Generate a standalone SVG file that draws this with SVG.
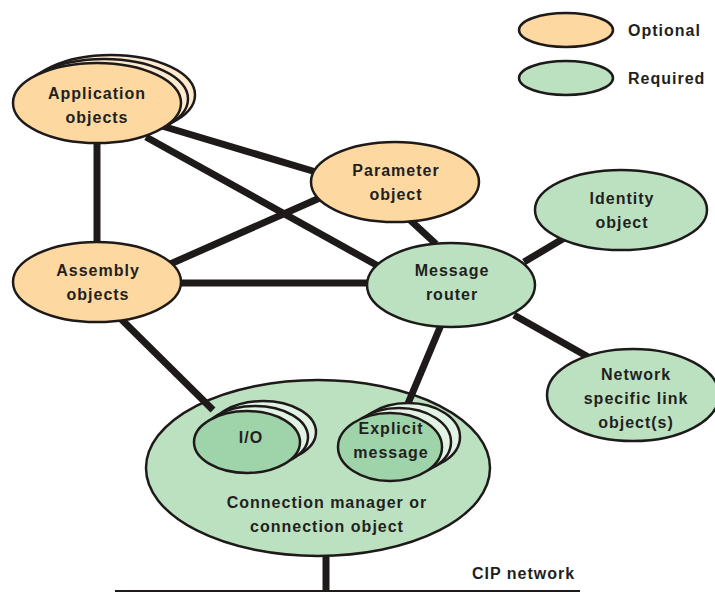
<svg xmlns="http://www.w3.org/2000/svg" width="715" height="592" viewBox="0 0 715 592">
<style>
.opt{fill:#fdd8a0;stroke:#1e1a1a;stroke-width:2.5}
.optb{fill:#feead0;stroke:#1e1a1a;stroke-width:2.5}
.req{fill:#bbe1c1;stroke:#1e1a1a;stroke-width:2.5}
.reqd{fill:#9fd3a9;stroke:#1e1a1a;stroke-width:2.5}
.reqb{fill:#e2f2e4;stroke:#1e1a1a;stroke-width:2.5}
.t{font-family:"Liberation Sans",Arial,sans-serif;font-weight:bold;font-size:16px;letter-spacing:1px;fill:#231f20;text-anchor:middle}
.tl{font-family:"Liberation Sans",Arial,sans-serif;font-weight:bold;font-size:16px;letter-spacing:1px;fill:#231f20}
.c{stroke:#1e1a1a;stroke-width:7;fill:none}
</style>
<rect width="715" height="592" fill="#ffffff"/>
<g id="legend">
<ellipse class="opt" cx="566" cy="30" rx="47" ry="17"/>
<text class="tl" x="628" y="36">Optional</text>
<ellipse class="req" cx="566" cy="78" rx="47" ry="17"/>
<text class="tl" x="628" y="84">Required</text>
</g>
<g id="connection-manager">
<ellipse class="req" cx="318" cy="468" rx="172" ry="88"/>
<text class="t" x="327" y="508">Connection manager or</text>
<text class="t" x="327" y="532">connection object</text>
</g>
<g id="connectors">
<line class="c" x1="97" y1="143" x2="97" y2="242"/>
<line class="c" x1="162" y1="126" x2="316" y2="172"/>
<line class="c" x1="146" y1="137" x2="380" y2="267"/>
<line class="c" x1="322" y1="197" x2="168" y2="265"/>
<line class="c" x1="410" y1="220" x2="436" y2="244"/>
<line class="c" x1="181" y1="283" x2="367" y2="283"/>
<line class="c" x1="120" y1="318" x2="213" y2="410"/>
<line class="c" x1="441" y1="325" x2="404" y2="413"/>
<line class="c" x1="524" y1="262" x2="566" y2="237"/>
<line class="c" x1="514" y1="315" x2="590" y2="358"/>
<line class="c" x1="326" y1="555" x2="326" y2="592"/>
<line x1="115" y1="591" x2="580" y2="591" stroke="#1e1a1a" stroke-width="2"/>
<text class="tl" x="472" y="579">CIP network</text>
</g>
<g id="application-objects">
<ellipse class="optb" cx="111" cy="95" rx="84" ry="40"/>
<ellipse class="optb" cx="104" cy="99" rx="84" ry="40"/>
<ellipse class="opt" cx="97" cy="103" rx="84" ry="40"/>
<text class="t" x="97" y="99">Application</text>
<text class="t" x="97" y="123">objects</text>
</g>
<g id="parameter-object">
<ellipse class="opt" cx="395" cy="182" rx="84" ry="40"/>
<text class="t" x="396" y="176">Parameter</text>
<text class="t" x="396" y="200">object</text>
</g>
<g id="identity-object">
<ellipse class="req" cx="621" cy="210" rx="86" ry="40"/>
<text class="t" x="622" y="204">Identity</text>
<text class="t" x="622" y="228">object</text>
</g>
<g id="assembly-objects">
<ellipse class="opt" cx="97" cy="282" rx="84" ry="40"/>
<text class="t" x="98" y="276">Assembly</text>
<text class="t" x="98" y="300">objects</text>
</g>
<g id="message-router">
<ellipse class="req" cx="451" cy="285" rx="84" ry="42"/>
<text class="t" x="452" y="276">Message</text>
<text class="t" x="452" y="300">router</text>
</g>
<g id="network-link-object">
<ellipse class="req" cx="633" cy="395" rx="86" ry="46"/>
<text class="t" x="636" y="380">Network</text>
<text class="t" x="636" y="404">specific link</text>
<text class="t" x="636" y="428">object(s)</text>
</g>
<g id="io">
<ellipse class="reqb" cx="263" cy="432" rx="53" ry="31"/>
<ellipse class="reqb" cx="255" cy="437" rx="53" ry="31"/>
<ellipse class="reqd" cx="247" cy="442" rx="53" ry="31"/>
<text class="t" x="251" y="443">I/O</text>
</g>
<g id="explicit-message">
<ellipse class="reqb" cx="408" cy="437" rx="52" ry="34"/>
<ellipse class="reqb" cx="399" cy="442" rx="52" ry="34"/>
<ellipse class="reqd" cx="390" cy="447" rx="52" ry="34"/>
<text class="t" x="391" y="434">Explicit</text>
<text class="t" x="391" y="458">message</text>
</g>
</svg>
